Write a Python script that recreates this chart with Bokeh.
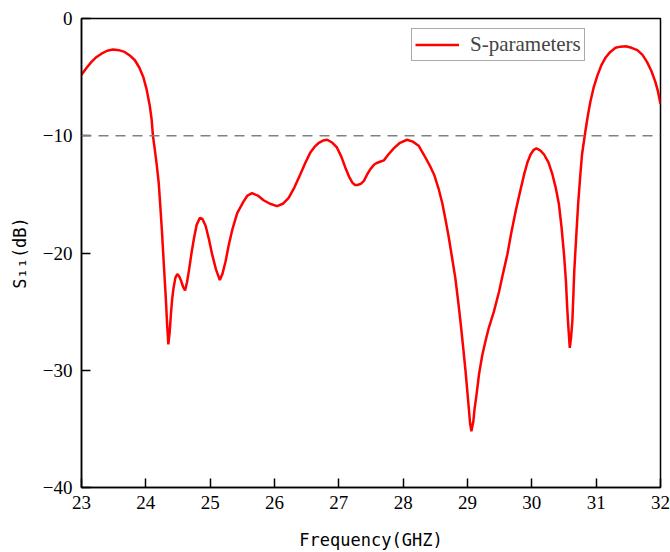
from bokeh.plotting import figure
from bokeh.models import Span, Legend, LegendItem, Range1d
from bokeh.embed import file_html
from bokeh.resources import INLINE

freq = [23.0, 23.08, 23.155, 23.23, 23.31, 23.40, 23.49, 23.58, 23.67, 23.75, 23.83, 23.90,
        23.96, 24.01, 24.06, 24.09, 24.11, 24.14, 24.17, 24.2, 24.225, 24.25, 24.28, 24.31,
        24.33, 24.35, 24.37, 24.39, 24.41, 24.43, 24.46, 24.49, 24.52, 24.55, 24.58, 24.61,
        24.64, 24.67, 24.71, 24.75, 24.79, 24.84, 24.88, 24.93, 24.98, 25.03, 25.09, 25.15,
        25.19, 25.24, 25.29, 25.34, 25.42, 25.52, 25.58, 25.65, 25.74, 25.83, 25.93, 26.04,
        26.13, 26.22, 26.31, 26.40, 26.48, 26.56, 26.63, 26.69, 26.76, 26.82, 26.90, 26.97,
        27.04, 27.10, 27.16, 27.21, 27.25, 27.29, 27.34, 27.39, 27.44, 27.49, 27.55, 27.60,
        27.65, 27.70, 27.77, 27.85, 27.95, 28.06, 28.15, 28.24, 28.32, 28.41, 28.48, 28.55,
        28.61, 28.66, 28.71, 28.76, 28.81, 28.85, 28.89, 28.93, 28.97, 29.01, 29.04, 29.06,
        29.09, 29.11, 29.14, 29.18, 29.23, 29.28, 29.33, 29.41, 29.49, 29.55, 29.62, 29.68,
        29.75, 29.82, 29.88, 29.93, 29.98, 30.03, 30.07, 30.13, 30.19, 30.26, 30.32, 30.37,
        30.42, 30.46, 30.50, 30.53, 30.55, 30.57, 30.59, 30.61, 30.63, 30.645, 30.66, 30.69,
        30.72, 30.75, 30.78, 30.83, 30.87, 30.91, 30.96, 31.02, 31.08, 31.15, 31.22, 31.30,
        31.38, 31.46, 31.55, 31.64, 31.72, 31.79, 31.86, 31.92, 31.96, 32.0]
s11 = [-4.8, -4.2, -3.7, -3.3, -3.0, -2.75, -2.65, -2.7, -2.85, -3.15, -3.56, -4.2,
       -4.98, -6.0, -7.4, -8.6, -9.97, -11.2, -12.5, -14.0, -16.0, -18.1, -21.0, -23.8,
       -26.0, -27.8, -26.8, -25.2, -23.9, -23.0, -22.1, -21.8, -22.0, -22.4, -22.9, -23.2,
       -22.5, -21.5, -20.0, -18.7, -17.6, -17.0, -17.1, -17.7, -18.8, -20.1, -21.4, -22.3,
       -21.8, -20.7, -19.3, -18.1, -16.6, -15.6, -15.1, -14.9, -15.1, -15.5, -15.8, -16.0,
       -15.8, -15.3, -14.4, -13.3, -12.3, -11.4, -10.9, -10.6, -10.4, -10.34, -10.6, -11.0,
       -11.8, -12.7, -13.5, -14.0, -14.2, -14.2, -14.1, -13.85, -13.3, -12.85, -12.45, -12.3,
       -12.2, -12.1, -11.6, -11.1, -10.6, -10.34, -10.5, -10.85, -11.6, -12.5, -13.3, -14.5,
       -15.8, -17.2, -18.7, -20.4, -22.1, -23.9, -25.8, -27.9, -30.1, -32.6, -34.5, -35.2,
       -34.4, -33.3, -32.1, -30.3, -28.7, -27.5, -26.4, -25.0, -23.3, -21.8, -20.1, -18.3,
       -16.4, -14.7, -13.3, -12.3, -11.6, -11.2, -11.08, -11.25, -11.6, -12.3, -13.3, -14.4,
       -15.8, -17.7, -20.1, -22.4, -24.7, -26.5, -28.1, -27.2, -25.8, -23.7, -21.5, -18.6,
       -15.8, -13.6, -11.6, -9.7, -8.3, -7.1, -5.9, -4.85, -4.0, -3.3, -2.85, -2.5,
       -2.4, -2.37, -2.5, -2.7, -3.1, -3.7, -4.5, -5.4, -6.2, -7.3]

y_ticks = [0, -10, -20, -30, -40]
y_tick_labels = {0: "0", -10: "\u221210", -20: "\u221220", -30: "\u221230", -40: "\u221240"}
x_ticks = [23, 24, 25, 26, 27, 28, 29, 30, 31, 32]
threshold = -10

p = figure(width=670, height=552, output_backend="svg", toolbar_location=None,
           x_range=Range1d(23, 32), y_range=Range1d(-40, 0),
           min_border_left=81, min_border_right=10, min_border_top=18, min_border_bottom=65)
p.background_fill_color = "white"
p.border_fill_color = "white"
p.outline_line_color = "black"
p.outline_line_width = 1.5
p.xgrid.visible = False
p.ygrid.visible = False

r = p.line(freq, s11, line_color="red", line_width=2.5)
p.add_layout(Span(location=threshold, dimension="width", line_color="#808080",
                  line_dash="10 7", line_width=1.5))

for ax in (p.xaxis[0], p.yaxis[0]):
    ax.axis_line_color = "black"
    ax.axis_line_width = 1.5
    ax.major_tick_line_width = 1.5
    ax.minor_tick_line_width = 1.5
    ax.major_tick_in = 9
    ax.major_tick_out = 0
    ax.minor_tick_in = 5
    ax.minor_tick_out = 0
    ax.major_label_text_font = "Liberation Serif"
    ax.major_label_text_font_size = "19px"
    ax.major_label_text_color = "black"
    ax.axis_label_text_font = "DejaVu Sans Mono"
    ax.axis_label_text_font_size = "17px"
    ax.axis_label_text_font_style = "normal"
    ax.axis_label_text_color = "black"

p.xaxis.ticker = x_ticks
p.xaxis[0].ticker.num_minor_ticks = 2
p.yaxis.ticker = y_ticks
p.yaxis[0].ticker.num_minor_ticks = 2
p.yaxis.major_label_overrides = y_tick_labels
p.xaxis.axis_label = "Frequency(GHZ)"
p.yaxis.axis_label = "S\u2081\u2081(dB)"
p.xaxis.major_label_standoff = 8
p.yaxis.major_label_standoff = 9
p.xaxis.axis_label_standoff = 18
p.yaxis.axis_label_standoff = 10

legend = Legend(items=[LegendItem(label="S-parameters", renderers=[r])],
                location=(330, 426))
legend.label_text_font = "Liberation Serif"
legend.label_text_font_size = "21px"
legend.border_line_color = "#555555"
legend.border_line_width = 1
legend.glyph_width = 44
legend.glyph_height = 25
legend.padding = 3
legend.margin = 0
legend.spacing = 0
legend.label_standoff = 11
p.add_layout(legend)

open("out.html", "w").write(file_html(p, INLINE))
